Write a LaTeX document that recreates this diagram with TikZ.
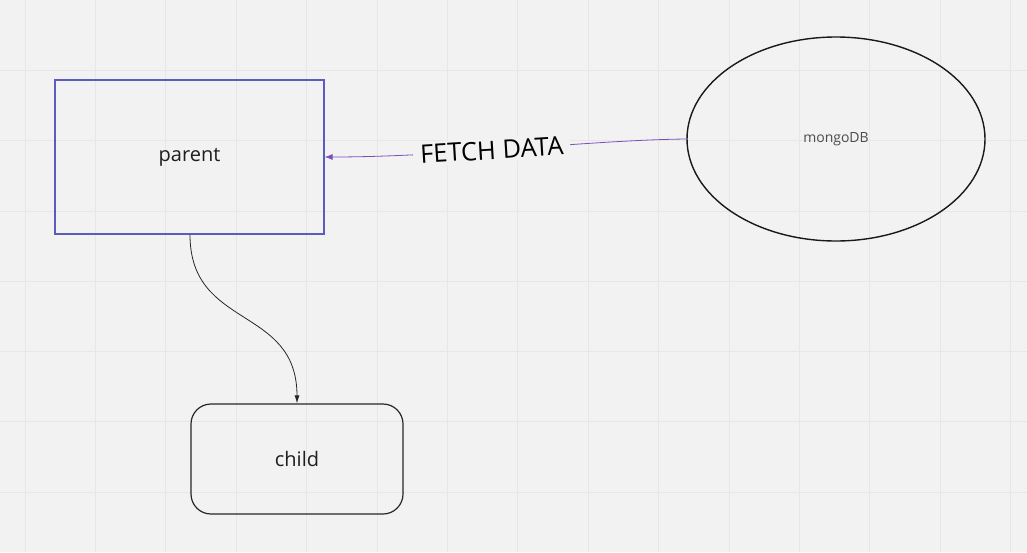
\documentclass[tikz,border=0pt]{standalone}
\usepackage{fontspec}
\setmainfont{Open Sans}
\usetikzlibrary{shapes.geometric,arrows.meta}
\definecolor{bg}{RGB}{242,242,242}
\definecolor{gridc}{RGB}{231,231,231}
\definecolor{boxblue}{RGB}{92,92,190}
\definecolor{arrowpurple}{RGB}{122,78,190}
\definecolor{txt}{RGB}{30,30,30}
\tikzset{
  parentbox/.style={draw=boxblue, line width=1.2pt, minimum width=269pt, minimum height=154pt, inner sep=0pt, font=\fontsize{20}{22}\selectfont, text=txt},
  childbox/.style={draw=black!85, line width=1.2pt, rounded corners=20pt, minimum width=212pt, minimum height=110pt, inner sep=0pt, font=\fontsize{20}{22}\selectfont, text=txt},
  dbshape/.style={ellipse, draw=black!90, line width=1.4pt, minimum width=298pt, minimum height=204pt, inner sep=0pt, font=\fontsize{14}{16}\selectfont, text=txt!80},
  fetcharrow/.style={draw=arrowpurple, line width=0.8pt, -{Latex[length=8pt,width=6pt]}},
  childarrow/.style={draw=black!85, line width=0.8pt, -{Latex[length=8pt,width=5pt]}},
  lbl/.style={fill=bg, inner xsep=7pt, inner ysep=3pt, font=\fontsize{25.5}{27}\selectfont, text=black}
}
\begin{document}
\begin{tikzpicture}[x=1pt,y=-1pt]
\fill[bg] (0,0) rectangle (1027,552);
\useasboundingbox (0,0) rectangle (1027,552);
\foreach \i in {0,...,14} {
  \draw[gridc, line width=0.8pt] ({25+70.4*\i},0) -- ({25+70.4*\i},552);
}
\foreach \j in {1,...,7} {
  \draw[gridc, line width=0.8pt] (0,{70.3*\j}) -- (1027,{70.3*\j});
}
\node[parentbox] (parent) at (189.5,157) {parent};
\node[childbox] (child) at (297,459) {child};
\node[dbshape] (db) at (836,139) {mongoDB};
\draw[fetcharrow] (db.west) .. controls (590,140) and (450,157) .. node[lbl, rotate=3.5, pos=0.565] (fetch) {FETCH DATA} (parent.east);
\draw[childarrow] (parent.south -| 190,0) .. controls (190,330) and (297,305) .. (child.north);
\end{tikzpicture}
\end{document}
